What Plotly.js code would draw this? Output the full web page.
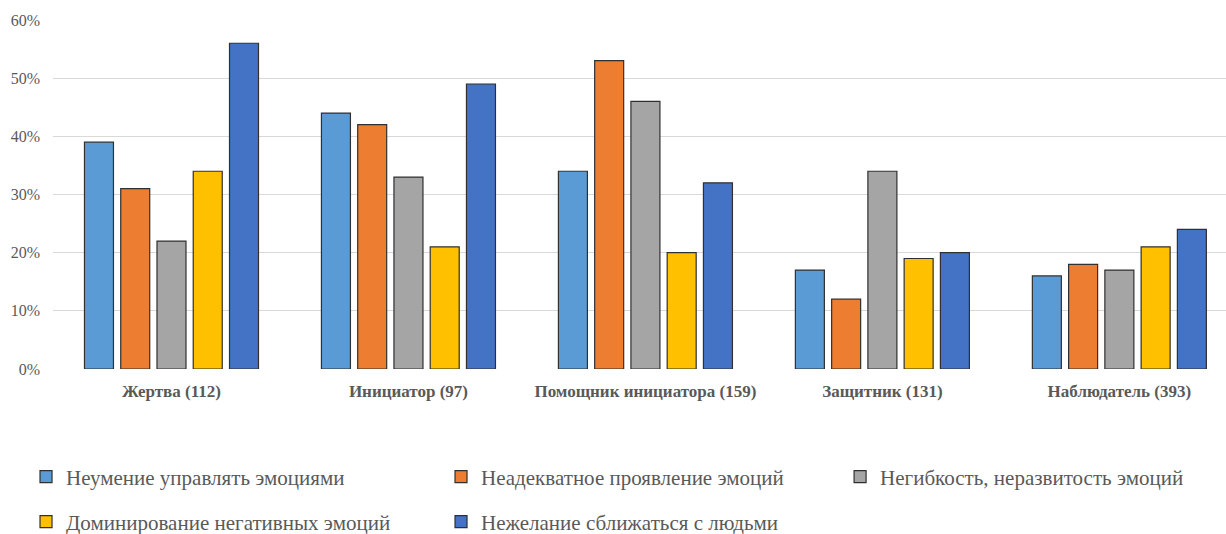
<!DOCTYPE html>
<html>
<head>
<meta charset="utf-8">
<script src="https://cdn.plot.ly/plotly-3.0.1.min.js"></script>
<style>html,body{margin:0;padding:0;background:#fff;}#chart{width:1226px;height:534px;}</style>
</head>
<body>
<div id="chart"></div>
<script>
const categories = ["Жертва (112)", "Инициатор (97)", "Помощник инициатора (159)", "Защитник (131)", "Наблюдатель (393)"];
const seriesNames = ["Неумение управлять эмоциями", "Неадекватное проявление эмоций", "Негибкость, неразвитость эмоций", "Доминирование негативных эмоций", "Нежелание сближаться с людьми"];
const inability = [39, 44, 34, 17, 16];
const inadequate = [31, 42, 53, 12, 18];
const inflexible = [22, 33, 46, 34, 17];
const negative = [34, 21, 20, 19, 21];
const unwilling = [56, 49, 32, 20, 24];
const yTicks = [0, 10, 20, 30, 40, 50, 60];
const yTickLabels = ["0%", "10%", "20%", "30%", "40%", "50%", "60%"];

const seriesValues = [inability, inadequate, inflexible, negative, unwilling];
const colors = ["#5B9BD5", "#ED7D31", "#A5A5A5", "#FFC000", "#4472C4"];
const legendIds = ["legend", "legend", "legend3", "legend2", "legend2"];

const traces = seriesValues.map((vals, i) => ({
  type: "bar",
  name: seriesNames[i],
  x: categories,
  y: vals,
  marker: {color: colors[i], line: {color: "#303030", width: 1.2}},
  legend: legendIds[i],
  hoverinfo: "skip"
}));

const fontFam = "Liberation Serif";
const legendCommon = {
  orientation: "h",
  xanchor: "left",
  yanchor: "middle",
  font: {family: fontFam, size: 21, color: "#595959"},
  entrywidth: 370,
  entrywidthmode: "pixels",
  bgcolor: "rgba(0,0,0,0)"
};

const layout = {
  width: 1226,
  height: 534,
  margin: {l: 53, r: 0, t: 20, b: 165, autoexpand: false},
  paper_bgcolor: "#ffffff",
  plot_bgcolor: "#ffffff",
  barmode: "group",
  bargap: 0.235,
  bargroupgap: 0.2,
  showlegend: true,
  font: {family: fontFam, color: "#595959"},
  xaxis: {
    type: "category",
    range: [-0.5, 4.45],
    showgrid: false,
    showline: false,
    zeroline: false,
    ticks: "",
    tickfont: {family: fontFam, size: 17, color: "#595959", weight: "bold"},
    ticklabelstandoff: 10
  },
  yaxis: {
    range: [0, 60],
    tickmode: "array",
    tickvals: yTicks,
    ticktext: yTickLabels,
    showgrid: true,
    gridcolor: "#D9D9D9",
    gridwidth: 1.3,
    zeroline: false,
    showline: false,
    ticks: "",
    tickfont: {family: fontFam, size: 16, color: "#595959"},
    ticklabelstandoff: 12
  },
  legend: Object.assign({x: -0.023, y: -0.3095}, legendCommon),
  legend3: Object.assign({x: 0.671, y: -0.3095}, legendCommon),
  legend2: Object.assign({x: -0.023, y: -0.4384}, legendCommon)
};

Plotly.newPlot("chart", traces, layout, {displayModeBar: false, staticPlot: true});
</script>
</body>
</html>
